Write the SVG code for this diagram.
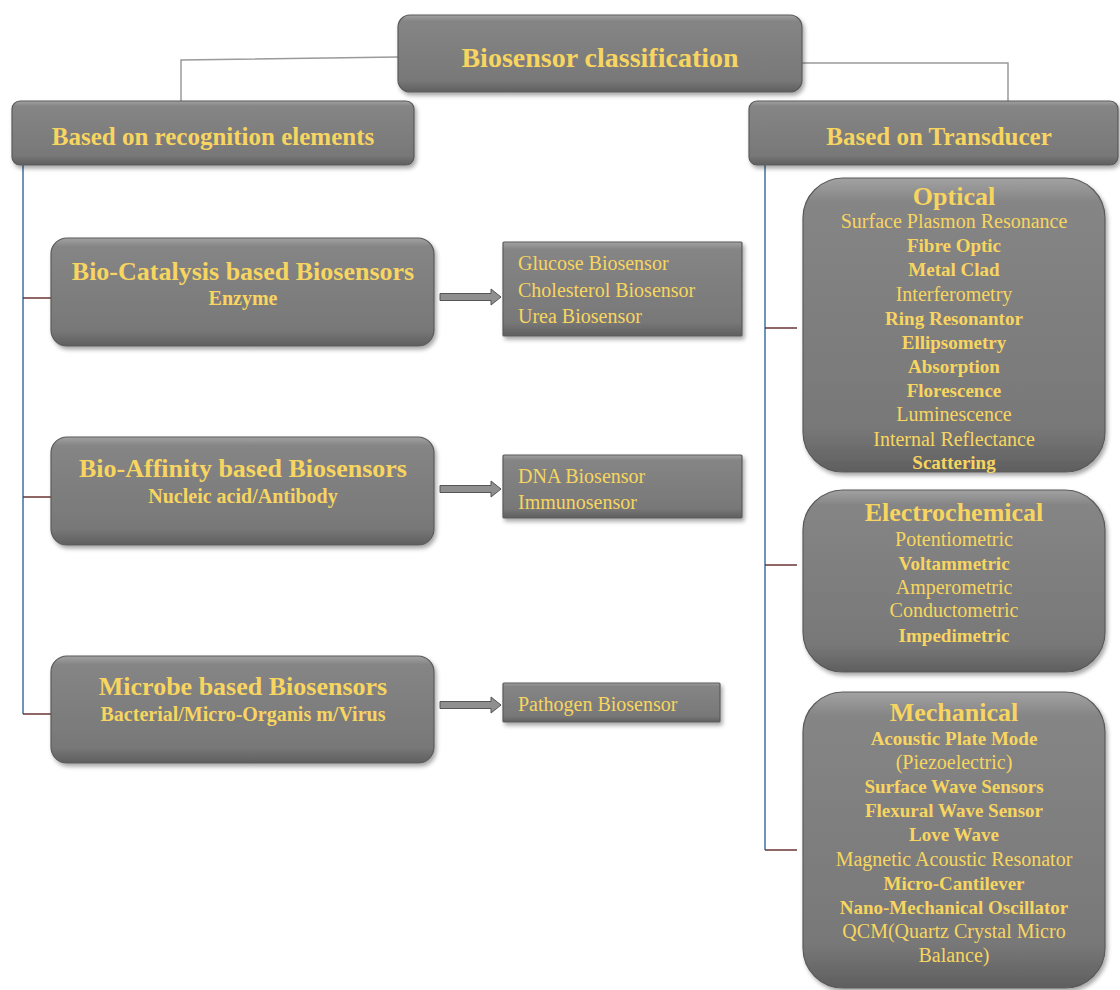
<svg xmlns="http://www.w3.org/2000/svg" width="1120" height="990" viewBox="0 0 1120 990">
<defs>
<linearGradient id="g" x1="0" y1="0" x2="0" y2="1">
<stop offset="0" stop-color="#a2a2a2"/>
<stop offset="0.08" stop-color="#858585"/>
<stop offset="0.85" stop-color="#787878"/>
<stop offset="1" stop-color="#5f5f5f"/>
</linearGradient>
<filter id="sh" x="-10%" y="-10%" width="120%" height="130%">
<feDropShadow dx="2" dy="3" stdDeviation="2" flood-color="#000" flood-opacity="0.35"/>
</filter>
<style>
.box{fill:url(#g);stroke:#5a5a5a;stroke-width:1.2;filter:url(#sh)}
.t{font-family:"Liberation Serif","Times New Roman",serif;fill:#f7d560;text-anchor:middle}
.l{text-anchor:start}
.root{font-size:28px;font-weight:bold}
.cat{font-size:25px;font-weight:bold}
.ttl{font-size:26px;font-weight:bold}
.sub{font-size:20px;font-weight:bold}
.it{font-size:20px}
.itb{font-size:19px;font-weight:bold}
.gray{stroke:#9a9a9a;stroke-width:1.5;fill:none}
.blue{stroke:#41719c;stroke-width:1.5;fill:none}
.tick{stroke:#6b3535;stroke-width:1.5;fill:none}
.arr{fill:#8f8f8f;stroke:#555;stroke-width:1}
</style>
</defs>
<rect width="1120" height="990" fill="#ffffff"/>
<g id="connectors">
<polyline class="gray" points="398,57 181,60 181,101"/>
<polyline class="gray" points="802,63 1008,63 1008,101"/>
<line class="blue" x1="23" y1="165" x2="23" y2="714"/>
<line class="tick" x1="23" y1="298" x2="51" y2="298"/>
<line class="tick" x1="23" y1="497" x2="51" y2="497"/>
<line class="tick" x1="23" y1="714" x2="51" y2="714"/>
<line class="blue" x1="765" y1="165" x2="765" y2="850"/>
<line class="tick" x1="765" y1="328" x2="797" y2="328"/>
<line class="tick" x1="765" y1="565" x2="797" y2="565"/>
<line class="tick" x1="765" y1="850" x2="797" y2="850"/>
<polygon class="arr" points="440,293.5 491,293.5 491,289 501,297 491,305 491,300.5 440,300.5"/>
<polygon class="arr" points="440,485.5 491,485.5 491,481 501,489 491,497 491,492.5 440,492.5"/>
<polygon class="arr" points="440,701.5 491,701.5 491,697 501,705 491,713 491,708.5 440,708.5"/>
</g>
<g id="root">
<rect class="box" x="398" y="15" width="404" height="77" rx="12"/>
<text class="t root" x="600" y="67">Biosensor classification</text>
</g>
<g id="recognition">
<rect class="box" x="12" y="101" width="402" height="64" rx="8"/>
<text class="t cat" x="213" y="145">Based on recognition elements</text>
</g>
<g id="transducer">
<rect class="box" x="749" y="101" width="369" height="64" rx="8"/>
<text class="t cat" x="939" y="145">Based on Transducer</text>
</g>
<g id="biocatalysis">
<rect class="box" x="51" y="238" width="383" height="108" rx="16"/>
<text class="t ttl" x="243" y="280">Bio-Catalysis based Biosensors</text>
<text class="t sub" x="243" y="305">Enzyme</text>
</g>
<g id="biocatalysis-list">
<rect class="box" x="503" y="242" width="239" height="94" rx="1"/>
<text class="t it l" x="518" y="270">Glucose  Biosensor</text>
<text class="t it l" x="518" y="297">Cholesterol  Biosensor</text>
<text class="t it l" x="518" y="323">Urea Biosensor</text>
</g>
<g id="bioaffinity">
<rect class="box" x="51" y="437" width="383" height="108" rx="16"/>
<text class="t ttl" x="243" y="477">Bio-Affinity based Biosensors</text>
<text class="t sub" x="243" y="503">Nucleic acid/Antibody</text>
</g>
<g id="bioaffinity-list">
<rect class="box" x="503" y="455" width="239" height="63" rx="1"/>
<text class="t it l" x="518" y="483">DNA Biosensor</text>
<text class="t it l" x="518" y="509">Immunosensor</text>
</g>
<g id="microbe">
<rect class="box" x="51" y="656" width="383" height="107" rx="16"/>
<text class="t ttl" x="243" y="695">Microbe based Biosensors</text>
<text class="t sub" x="243" y="721">Bacterial/Micro-Organis m/Virus</text>
</g>
<g id="microbe-list">
<rect class="box" x="503" y="683" width="217" height="39" rx="1"/>
<text class="t it l" x="518" y="711">Pathogen  Biosensor</text>
</g>
<g id="optical">
<rect class="box" x="803" y="178" width="302" height="294" rx="40"/>
<text class="t ttl" x="954" y="205">Optical</text>
<text class="t it" x="954" y="228">Surface Plasmon Resonance</text>
<text class="t itb" x="954" y="252">Fibre Optic</text>
<text class="t itb" x="954" y="276">Metal Clad</text>
<text class="t it" x="954" y="301">Interferometry</text>
<text class="t itb" x="954" y="325">Ring Resonantor</text>
<text class="t itb" x="954" y="349">Ellipsometry</text>
<text class="t itb" x="954" y="373">Absorption</text>
<text class="t itb" x="954" y="397">Florescence</text>
<text class="t it" x="954" y="421">Luminescence</text>
<text class="t it" x="954" y="446">Internal Reflectance</text>
<text class="t itb" x="954" y="469">Scattering</text>
</g>
<g id="electrochemical">
<rect class="box" x="803" y="490" width="302" height="182" rx="40"/>
<text class="t ttl" x="954" y="521">Electrochemical</text>
<text class="t it" x="954" y="546">Potentiometric</text>
<text class="t itb" x="954" y="570">Voltammetric</text>
<text class="t it" x="954" y="594">Amperometric</text>
<text class="t it" x="954" y="617">Conductometric</text>
<text class="t itb" x="954" y="642">Impedimetric</text>
</g>
<g id="mechanical">
<rect class="box" x="803" y="692" width="302" height="296" rx="40"/>
<text class="t ttl" x="954" y="721">Mechanical</text>
<text class="t itb" x="954" y="745">Acoustic Plate Mode</text>
<text class="t it" x="954" y="769">(Piezoelectric)</text>
<text class="t itb" x="954" y="793">Surface Wave Sensors</text>
<text class="t itb" x="954" y="817">Flexural Wave Sensor</text>
<text class="t itb" x="954" y="841">Love Wave</text>
<text class="t it" x="954" y="866">Magnetic Acoustic Resonator</text>
<text class="t itb" x="954" y="890">Micro-Cantilever</text>
<text class="t itb" x="954" y="914">Nano-Mechanical Oscillator</text>
<text class="t it" x="954" y="938">QCM(Quartz Crystal Micro</text>
<text class="t it" x="954" y="962">Balance)</text>
</g>
</svg>
